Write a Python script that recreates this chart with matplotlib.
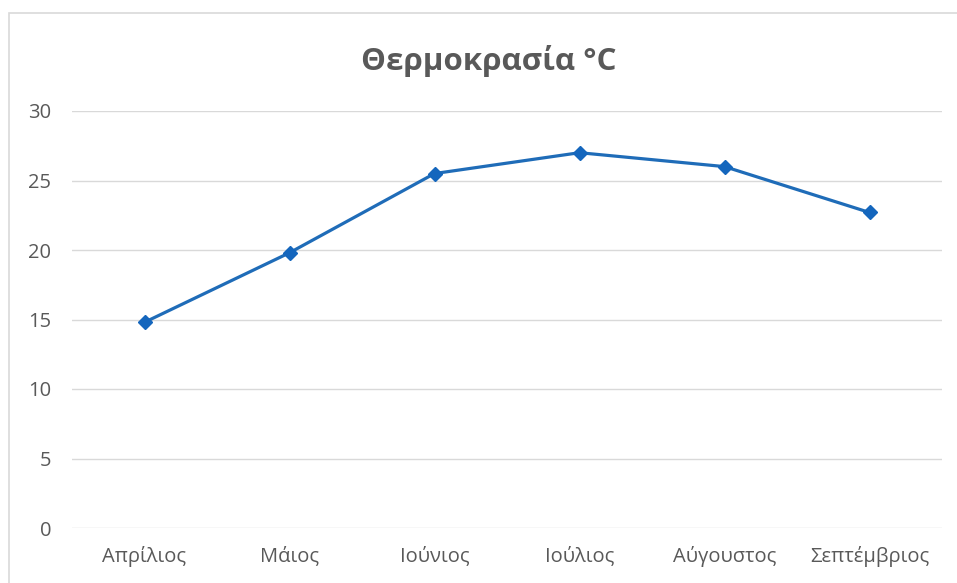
import matplotlib
matplotlib.use("Agg")
import matplotlib.pyplot as plt
from matplotlib.patches import Rectangle

months = ["Απρίλιος", "Μάιος", "Ιούνιος", "Ιούλιος", "Αύγουστος", "Σεπτέμβριος"]
temperatures = [14.8, 19.8, 25.5, 27.0, 26.0, 22.7]
y_ticks = [0, 5, 10, 15, 20, 25, 30]

plt.rcParams['font.family'] = ['Open Sans', 'DejaVu Sans']

W, H = 957, 583
fig = plt.figure(figsize=(W / 100, H / 100), dpi=100)
fig.patch.set_facecolor("white")

# light chart-area frame (runs off the right and bottom edges)
fig.patches.append(Rectangle((9 / W, -0.05), 1.1, 1 - 13 / H + 0.05,
                             transform=fig.transFigure, fill=False,
                             edgecolor="#d9d9d9", linewidth=1.2))

ax = fig.add_axes([72 / W, 1 - 528 / H, (942 - 72) / W, (528 - 111) / H])
ax.set_facecolor("none")

x = list(range(len(months)))
ax.plot(x, temperatures, color="#1f6cb8", linewidth=2.3,
        marker="D", markersize=7, markerfacecolor="#1466bd",
        markeredgecolor="#1466bd", zorder=3)

ax.set_xlim(-0.5, len(months) - 0.5)
ax.set_ylim(0, 30)
ax.set_yticks(y_ticks)
ax.set_xticks(x)
ax.set_xticklabels(months)

ax.grid(axis="y", color="#d9d9d9", linewidth=1)
ax.set_axisbelow(True)
for s in ax.spines.values():
    s.set_visible(False)

ax.tick_params(axis="y", length=0, pad=15, labelsize=14.5, labelcolor="#595959")
ax.tick_params(axis="x", length=0, pad=13, labelsize=14.5, labelcolor="#595959")

fig.text(489 / W, 1 - 61 / H, "Θερμοκρασία °C", ha="center", va="center",
         fontsize=22.5, fontweight="bold", color="#595959")

fig.savefig("out.png", dpi=100)
